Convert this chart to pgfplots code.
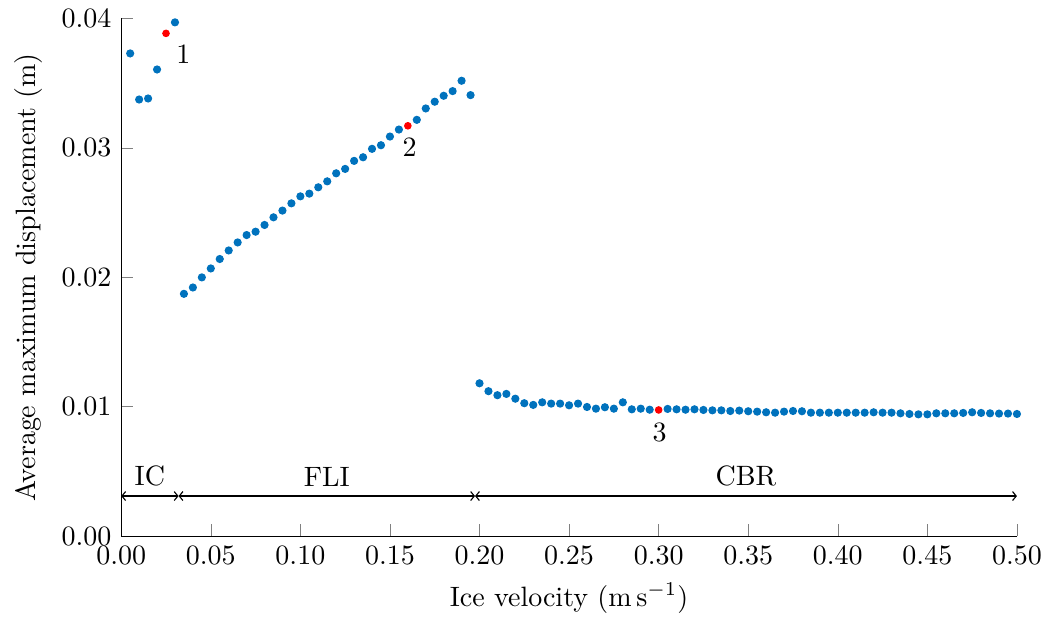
\documentclass[border=0pt]{standalone}
\usepackage{pgfplots}
\pgfplotsset{compat=1.18}
\usetikzlibrary{arrows.meta}
\definecolor{mblue}{RGB}{0,114,189}
\begin{document}
\begin{tikzpicture}
\begin{axis}[
  scale only axis,
  width=320pt, height=185pt,
  xmin=0, xmax=0.5, ymin=0, ymax=0.04,
  axis x line*=bottom, axis y line*=left,
  xtick={0,0.05,...,0.5}, ytick={0,0.01,0.02,0.03,0.04},
  xticklabel style={inner xsep=1.5pt,/pgf/number format/.cd,fixed,fixed zerofill,precision=2},
  yticklabel style={/pgf/number format/.cd,fixed,fixed zerofill,precision=2},
  scaled x ticks=false, scaled y ticks=false,
  xlabel={Ice velocity (m\,s$^{-1}$)},
  ylabel={Average maximum displacement (m)},
  clip=false,
]
% IC
\addplot[only marks, mark=*, mark size=1.25pt, color=mblue] coordinates {
(0.005,0.03729) (0.010,0.03373) (0.015,0.03381) (0.020,0.03605) (0.030,0.03969)
};
% FLI
\addplot[only marks, mark=*, mark size=1.25pt, color=mblue] coordinates {
(0.035,0.01872) (0.040,0.01921) (0.045,0.01999) (0.050,0.02068) (0.055,0.02141)
(0.060,0.02207) (0.065,0.02269) (0.070,0.02326) (0.075,0.02352) (0.080,0.02404)
(0.085,0.02463) (0.090,0.02515) (0.095,0.02571) (0.100,0.02625) (0.105,0.02646)
(0.110,0.02695) (0.115,0.02741) (0.120,0.02803) (0.125,0.02837) (0.130,0.02899)
(0.135,0.02927) (0.140,0.02992) (0.145,0.03020) (0.150,0.03087) (0.155,0.03141)
(0.165,0.03216) (0.170,0.03304) (0.175,0.03356) (0.180,0.03402)
(0.185,0.03438) (0.190,0.03518) (0.195,0.03407)
};
% CBR
\addplot[only marks, mark=*, mark size=1.25pt, color=mblue] coordinates {
(0.200,0.01181) (0.205,0.01120) (0.210,0.01089) (0.215,0.01099) (0.220,0.01062)
(0.225,0.01027) (0.230,0.01014) (0.235,0.01034) (0.240,0.01024) (0.245,0.01024)
(0.250,0.01011) (0.255,0.01024) (0.260,0.00998) (0.265,0.00985) (0.270,0.00996)
(0.275,0.00985) (0.280,0.01034) (0.285,0.00980) (0.290,0.00985) (0.295,0.00977)
(0.305,0.00983) (0.310,0.00980) (0.315,0.00977) (0.320,0.00980)
(0.325,0.00975) (0.330,0.00972) (0.335,0.00972) (0.340,0.00967) (0.345,0.00970)
(0.350,0.00965) (0.355,0.00962) (0.360,0.00957) (0.365,0.00954) (0.370,0.00962)
(0.375,0.00967) (0.380,0.00965) (0.385,0.00954) (0.390,0.00954) (0.395,0.00954)
(0.400,0.00954) (0.405,0.00954) (0.410,0.00954) (0.415,0.00954) (0.420,0.00957)
(0.425,0.00954) (0.430,0.00954) (0.435,0.00949) (0.440,0.00944) (0.445,0.00941)
(0.450,0.00941) (0.455,0.00949) (0.460,0.00949) (0.465,0.00949) (0.470,0.00952)
(0.475,0.00957) (0.480,0.00952) (0.485,0.00949) (0.490,0.00947) (0.495,0.00947)
(0.500,0.00944)
};
% highlighted cases
\addplot[only marks, mark=*, mark size=1.15pt, color=red] coordinates {
(0.025,0.03884) (0.160,0.03170) (0.300,0.00975)
};
\node[anchor=north west, inner sep=0pt] at (axis cs:0.0305,0.0380) {1};
\node[anchor=north, inner sep=0pt] at (axis cs:0.161,0.0308) {2};
\node[anchor=north, inner sep=0pt] at (axis cs:0.3005,0.0088) {3};
% regimes
\draw[{Straight Barb[length=1.3pt,width=3.2pt]}-{Straight Barb[length=1.3pt,width=3.2pt]}, line width=0.4pt] (axis cs:0,0.0031) -- (axis cs:0.032,0.0031);
\draw[{Straight Barb[length=1.3pt,width=3.2pt]}-{Straight Barb[length=1.3pt,width=3.2pt]}, line width=0.4pt] (axis cs:0.032,0.0031) -- (axis cs:0.1975,0.0031);
\draw[{Straight Barb[length=1.3pt,width=3.2pt]}-{Straight Barb[length=1.3pt,width=3.2pt]}, line width=0.4pt] (axis cs:0.1975,0.0031) -- (axis cs:0.5,0.0031);
\node[above] at (axis cs:0.016,0.0031) {IC};
\node[above] at (axis cs:0.11475,0.0031) {FLI};
\node[above] at (axis cs:0.34875,0.0031) {CBR};
\end{axis}
\path ([xshift=-1.8pt]current bounding box.west);
\end{tikzpicture}
\end{document}
